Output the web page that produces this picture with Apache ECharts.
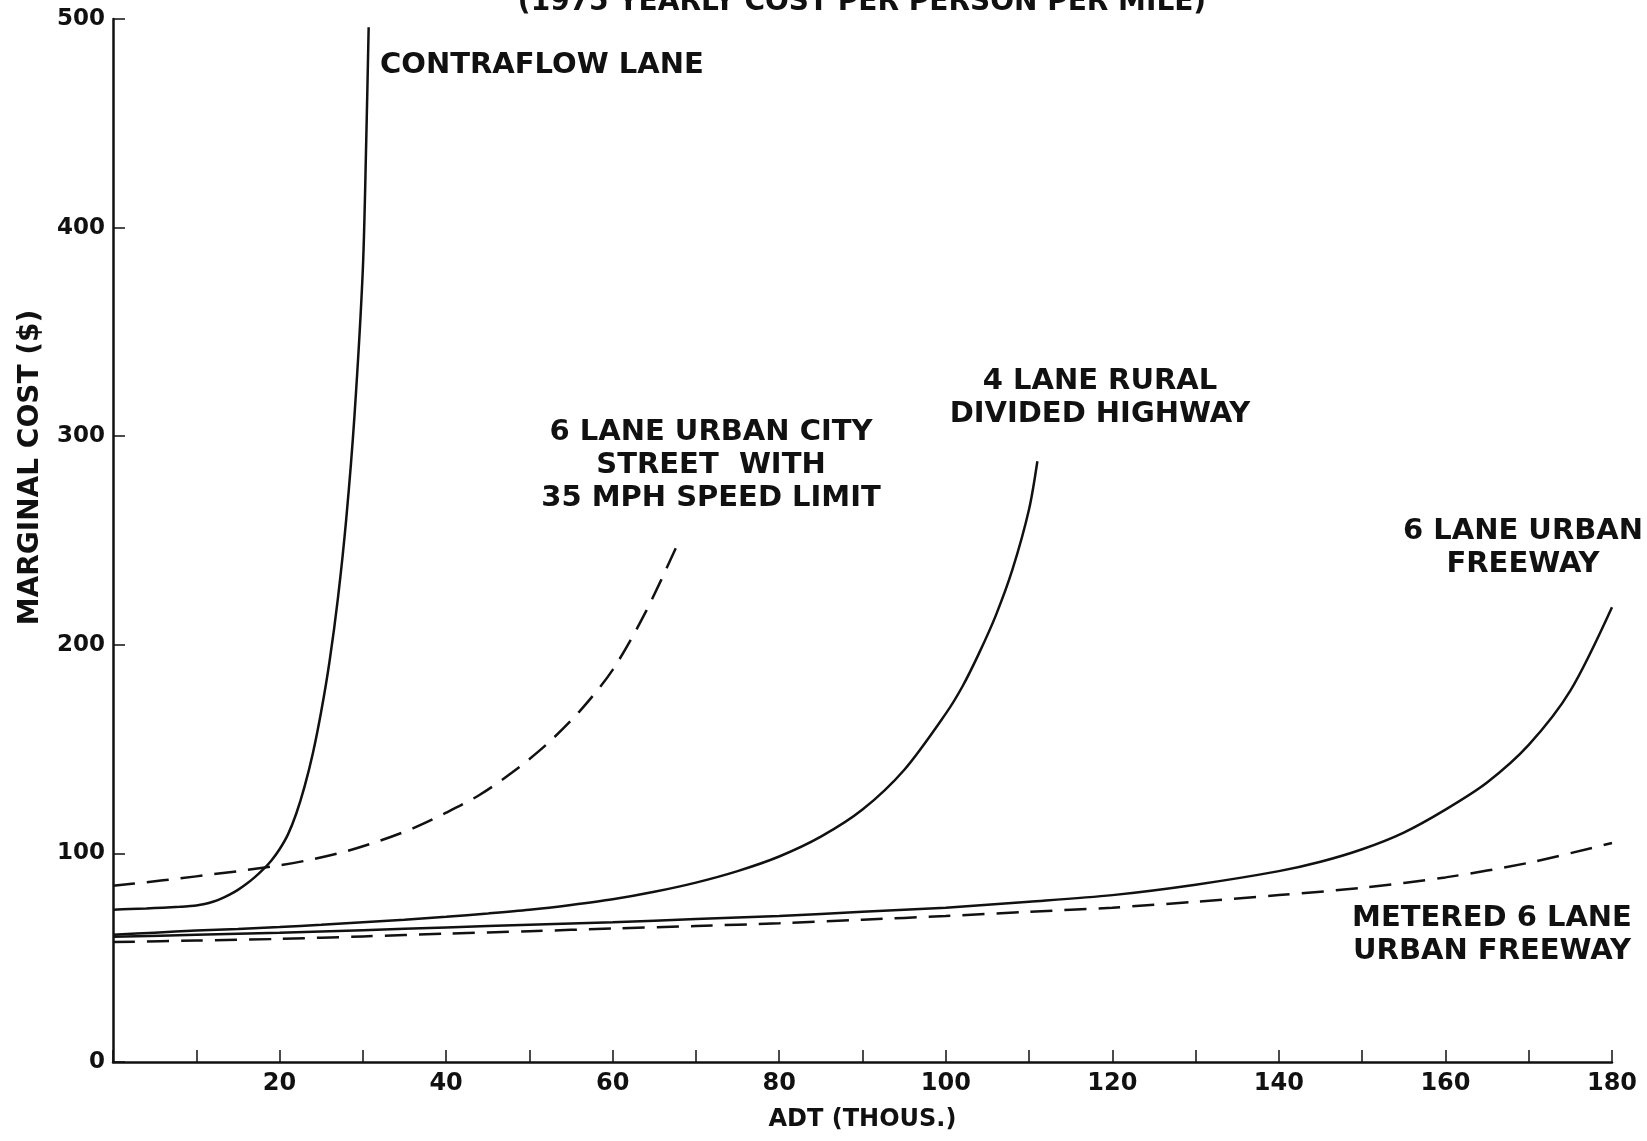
<!DOCTYPE html>
<html>
<head>
<meta charset="utf-8">
<script src="https://cdn.jsdelivr.net/npm/echarts@6/dist/echarts.min.js"></script>
<style>
  html, body { margin: 0; padding: 0; background: #fff; }
  #main { width: 1647px; height: 1141px; }
</style>
</head>
<body>
<div id="main"></div>
<script>
// ADT (thousands) vs marginal cost ($)
var contraflow = [[0, 73], [2, 73.3], [4, 73.6], [6, 74], [8, 74.4], [9, 74.7], [10, 75],
  [11, 75.7], [12, 76.8], [13, 78.3], [14, 80.2], [15, 82.5], [16, 85.3], [17, 88.5], [18, 92.2],
  [19, 96.5], [20, 102], [21, 109], [22, 119], [23, 132], [24, 148], [25, 168], [26, 192],
  [27, 222], [28, 260], [29, 310], [30, 380], [30.4, 440], [30.7, 496]];
var cityStreet = [[0, 84.5], [4, 86.2], [8, 88], [12, 90], [16, 92], [20, 94.3], [24, 97.2],
  [28, 101], [32, 106], [36, 112], [40, 119.5], [44, 128], [48, 139], [52, 152], [56, 168],
  [60, 188], [64, 216], [68, 250]];
var ruralHighway = [[0, 61], [5, 62], [10, 63], [15, 63.8], [20, 64.7], [25, 65.8], [30, 67],
  [35, 68.2], [40, 69.6], [45, 71.2], [50, 73], [55, 75.3], [60, 78], [65, 81.6], [70, 86],
  [75, 91.5], [80, 98.5], [85, 108], [90, 121], [95, 140], [100, 167], [102, 180], [104, 196],
  [106, 214], [108, 236], [110, 265], [111, 288]];
var urbanFreeway = [[0, 60], [10, 61], [20, 62], [30, 63.2], [40, 64.5], [50, 65.8], [60, 67],
  [70, 68.5], [80, 70], [90, 72], [100, 74], [110, 76.8], [120, 80], [130, 85], [140, 91.5],
  [145, 96], [150, 102], [155, 110], [160, 121], [165, 134], [170, 152], [175, 178], [180, 218]];
var meteredFreeway = [[0, 57.5], [10, 58.2], [20, 59], [30, 60.2], [40, 61.5], [50, 62.7],
  [60, 64], [70, 65.2], [80, 66.5], [90, 68.2], [100, 70], [110, 72], [120, 74], [130, 76.8],
  [140, 80], [150, 83.5], [160, 88.5], [170, 95.5], [180, 105]];

var xTicks = [0, 180, 10];   // min, max, step
var yTicks = [0, 500, 100];

var ink = '#111';
var font = 'bold 29px "DejaVu Sans"';

var myChart = echarts.init(document.getElementById('main'));

function curve(name, data, dashed) {
  return {
    name: name,
    type: 'line',
    data: data,
    showSymbol: false,
    smooth: 0.3,
    silent: true,
    lineStyle: { color: ink, width: 2.5, type: dashed ? [22, 12] : 'solid' }
  };
}

var option = {
  backgroundColor: '#fff',
  animation: false,
  grid: { left: 113, right: 35, top: 19, bottom: 79, containLabel: false, outerBoundsMode: 'none' },
  xAxis: {
    type: 'value',
    min: xTicks[0], max: xTicks[1], interval: xTicks[2],
    name: 'ADT (THOUS.)',
    nameLocation: 'middle',
    nameGap: 46,
    nameTextStyle: { color: ink, fontFamily: 'DejaVu Sans', fontWeight: 'bold', fontSize: 24 },
    axisLine: { lineStyle: { color: ink, width: 2.5 } },
    axisTick: { inside: true, length: 12, lineStyle: { color: ink, width: 1.5 } },
    splitLine: { show: false },
    axisLabel: {
      color: ink, fontFamily: 'DejaVu Sans', fontWeight: 'bold', fontSize: 24, margin: 10,
      formatter: function (v) { return (v > 0 && v % 20 === 0) ? String(v) : ''; }
    }
  },
  yAxis: {
    type: 'value',
    min: yTicks[0], max: yTicks[1], interval: yTicks[2],
    name: 'MARGINAL COST ($)',
    nameLocation: 'middle',
    nameGap: 68,
    nameRotate: 90,
    nameTextStyle: { color: ink, fontFamily: 'DejaVu Sans', fontWeight: 'bold', fontSize: 28, padding: [0, 0, 0, 146] },
    axisLine: { show: true, lineStyle: { color: ink, width: 2.5 } },
    axisTick: { show: true, inside: true, length: 12, lineStyle: { color: ink, width: 1.5 } },
    splitLine: { show: false },
    axisLabel: { color: ink, fontFamily: 'DejaVu Sans', fontWeight: 'bold', fontSize: 23, margin: 8 }
  },
  series: [
    curve('CONTRAFLOW LANE', contraflow, false),
    curve('6 LANE URBAN CITY STREET', cityStreet, true),
    curve('4 LANE RURAL DIVIDED HIGHWAY', ruralHighway, false),
    curve('6 LANE URBAN FREEWAY', urbanFreeway, false),
    curve('METERED 6 LANE URBAN FREEWAY', meteredFreeway, true)
  ],
  graphic: [
    { type: 'text', x: 862, y: 3, style: { text: '(1975 YEARLY COST PER PERSON PER MILE)', font: 'bold 28px "DejaVu Sans"', fill: ink, align: 'center', verticalAlign: 'middle' } },
    { type: 'text', x: 380, y: 65, style: { text: 'CONTRAFLOW LANE', font: font, fill: ink, align: 'left', verticalAlign: 'middle' } },
    { type: 'text', x: 711, y: 465, style: { text: '6 LANE URBAN CITY\nSTREET  WITH\n35 MPH SPEED LIMIT', font: font, fill: ink, align: 'center', verticalAlign: 'middle', lineHeight: 33 } },
    { type: 'text', x: 1100, y: 398, style: { text: '4 LANE RURAL\nDIVIDED HIGHWAY', font: font, fill: ink, align: 'center', verticalAlign: 'middle', lineHeight: 33 } },
    { type: 'text', x: 1523, y: 548, style: { text: '6 LANE URBAN\nFREEWAY', font: font, fill: ink, align: 'center', verticalAlign: 'middle', lineHeight: 33 } },
    { type: 'text', x: 1492, y: 935, style: { text: 'METERED 6 LANE\nURBAN FREEWAY', font: font, fill: ink, align: 'center', verticalAlign: 'middle', lineHeight: 33 } }
  ]
};

myChart.setOption(option);
</script>
</body>
</html>
